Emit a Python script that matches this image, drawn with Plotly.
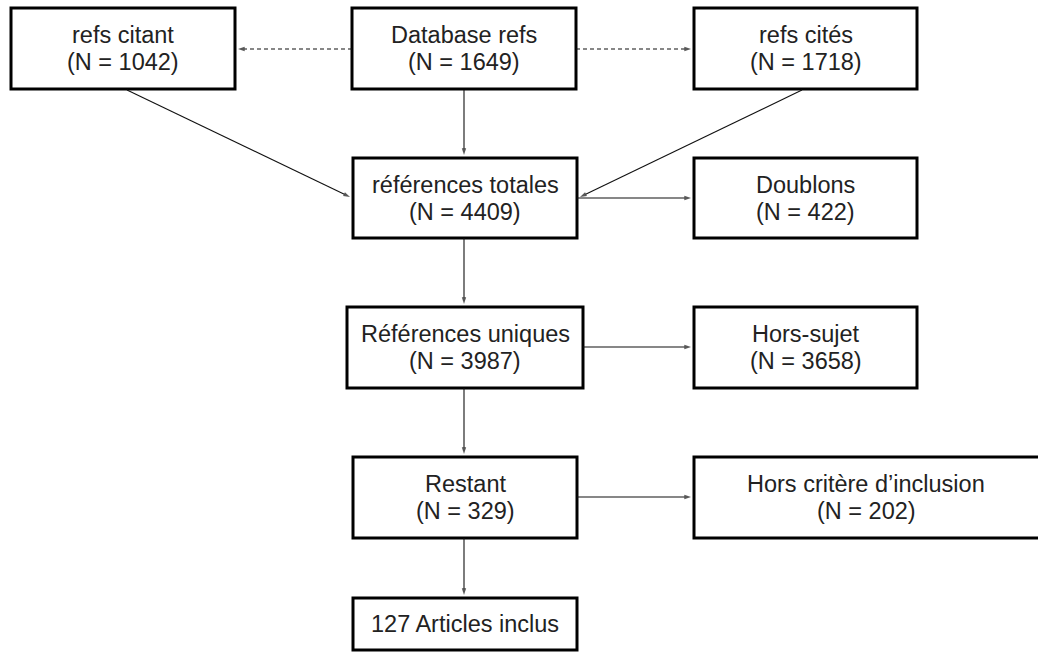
import plotly.graph_objects as go

# ---- data -------------------------------------------------------------
labels = ["refs citant", "Database refs", "refs cités", "références totales", "Doublons",
          "Références uniques", "Hors-sujet", "Restant", "Hors critère d’inclusion",
          "127 Articles inclus"]
counts = [1042, 1649, 1718, 4409, 422, 3987, 3658, 329, 202, None]

# edges: (from, to, dashed)
edges = [(1, 0, True), (1, 2, True), (0, 3, False), (1, 3, False), (2, 3, False),
         (3, 4, False), (3, 5, False), (5, 6, False), (5, 7, False), (7, 8, False), (7, 9, False)]

# ---- layout geometry (pixels, y downward) --------------------------------
boxes = [  # x0, x1, y0, y1
    (11, 235, 8, 89), (352, 576, 8, 89), (694, 917, 8, 89),
    (353, 577, 158, 238), (694, 917, 158, 238),
    (347, 583, 307, 388), (694, 917, 307, 388),
    (353, 577, 457, 538), (694, 1042, 457, 538),
    (353, 577, 598, 650),
]
text_cx = [None] * len(boxes)
text_cx[8] = 866

# arrow endpoints (start, end) in pixel coords
arrow_pts = [
    ((352, 49), (238, 49)), ((576, 49), (691, 49)),
    ((127, 90), (350, 197)), ((464, 90), (464, 155)), ((802, 90), (580, 197)),
    ((577, 198), (691, 198)), ((464, 238), (464, 304)),
    ((583, 347), (691, 347)), ((464, 388), (464, 454)),
    ((577, 497), (691, 497)), ((464, 538), (464, 595)),
]

FONT = "Liberation Sans, Arial, sans-serif"
fig = go.Figure()

for (a, b, dashed), (p0, p1) in zip(edges, arrow_pts):
    fig.add_trace(go.Scatter(
        x=[p0[0], p1[0]], y=[p0[1], p1[1]], mode="lines+markers",
        line=dict(color="#111", width=1.1, dash="4px,3px" if dashed else "solid"),
        marker=dict(symbol=["circle", "arrow"], size=[0, 7], angleref="previous",
                    color="#111", line=dict(width=0)),
        hoverinfo="skip", showlegend=False))

shapes = []
annotations = []
for i, (x0, x1, y0, y1) in enumerate(boxes):
    shapes.append(dict(type="rect", xref="x", yref="y", x0=x0, x1=x1, y0=y0, y1=y1,
                       line=dict(color="black", width=3), fillcolor="white", layer="below"))
    cx = text_cx[i] if text_cx[i] is not None else (x0 + x1) / 2
    cy = (y0 + y1) / 2
    if counts[i] is None:
        lines = [(labels[i], cy)]
    else:
        lines = [(labels[i], cy - 13.5), (f"(N = {counts[i]})", cy + 13.5)]
    for t, yy in lines:
        annotations.append(dict(x=cx, y=yy, xref="x", yref="y", text=t, showarrow=False,
                                xanchor="center", yanchor="middle",
                                font=dict(family=FONT, size=23.5, color="#222")))

fig.update_layout(
    width=1038, height=652, margin=dict(l=0, r=0, t=0, b=0),
    paper_bgcolor="white", plot_bgcolor="white",
    xaxis=dict(range=[0, 1038], visible=False, fixedrange=True),
    yaxis=dict(range=[652, 0], visible=False, fixedrange=True),
    shapes=shapes, annotations=annotations, showlegend=False,
)
fig.write_html("out.html", config={"displayModeBar": False},
               post_script="document.body.style.margin='0';document.body.style.overflow='hidden';")
